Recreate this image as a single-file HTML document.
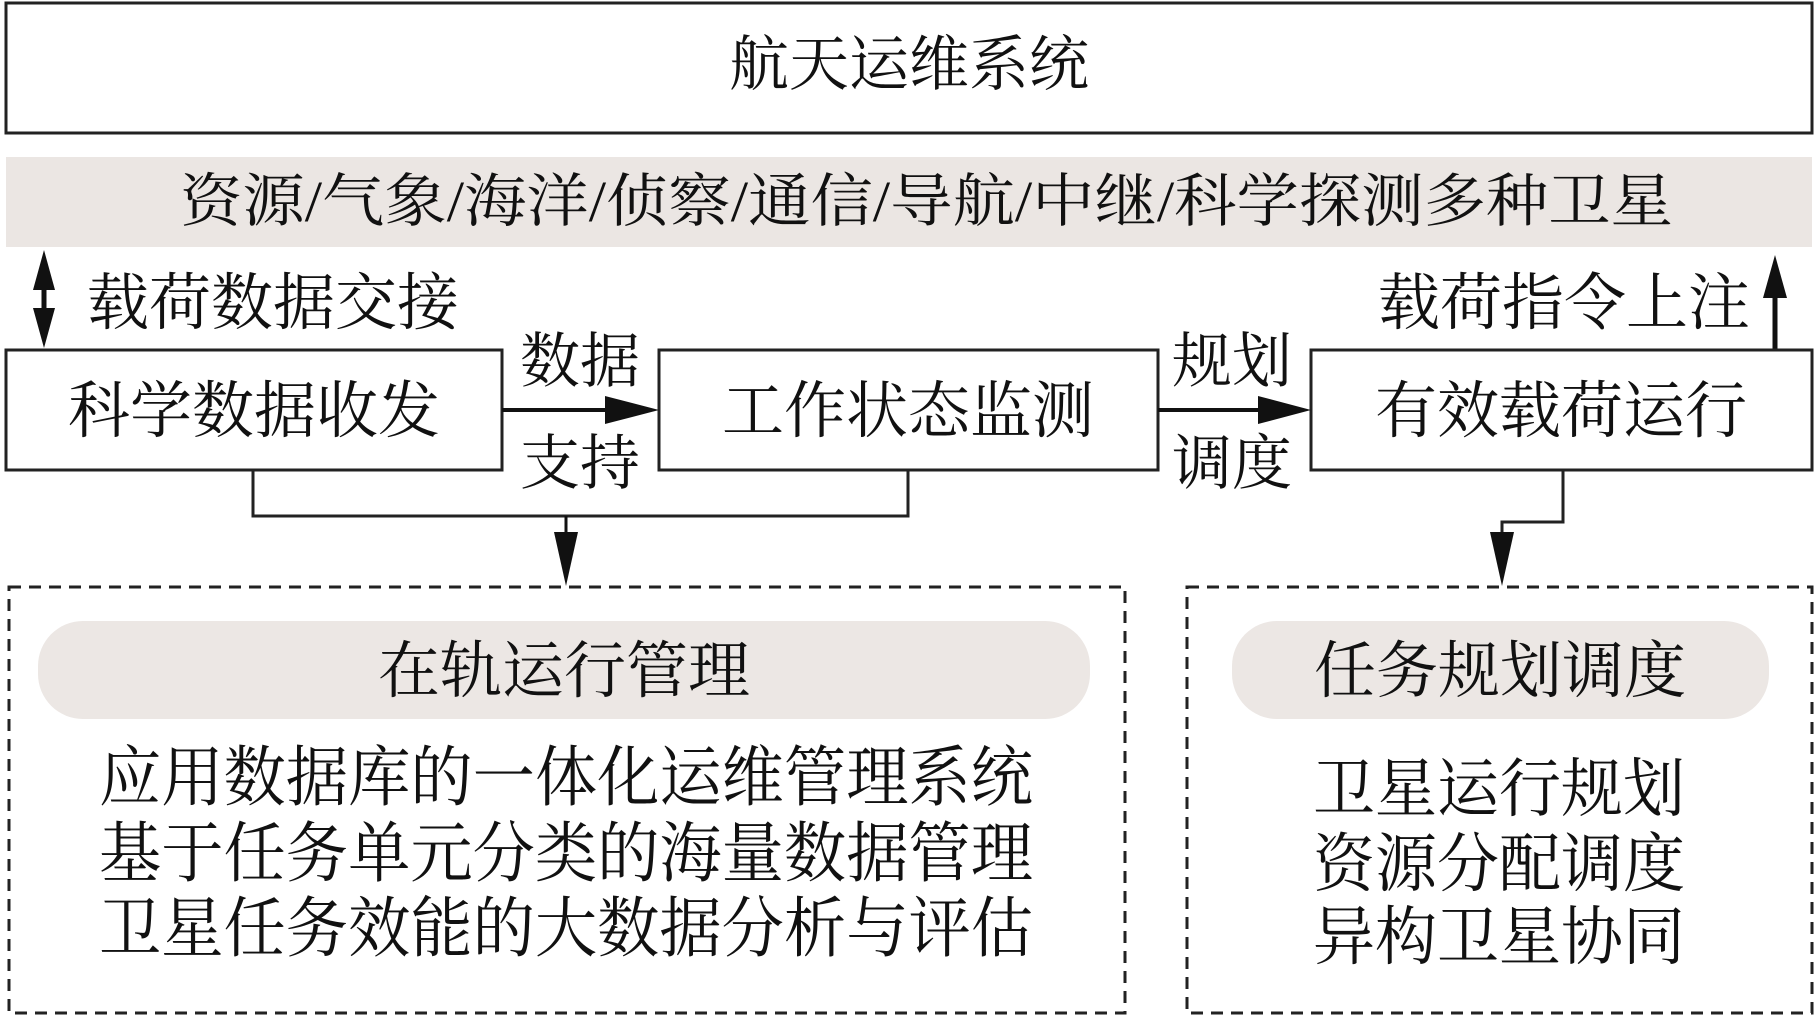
<!DOCTYPE html>
<html><head><meta charset="utf-8"><style>
html,body{margin:0;padding:0;background:#fff;}
svg text{font-family:"Liberation Serif","Noto Serif CJK SC",serif;fill:#111;}
</style></head><body>
<svg width="1819" height="1016" viewBox="0 0 1819 1016" xmlns="http://www.w3.org/2000/svg">
<rect x="6" y="3" width="1806" height="130" fill="#fff" stroke="#222" stroke-width="3"/>
<text x="909" y="85" font-size="60" text-anchor="middle">航天运维系统</text>
<rect x="6" y="157" width="1806" height="90" fill="#ebe6e3"/>
<text x="180" y="221" font-size="58" textLength="1493" lengthAdjust="spacingAndGlyphs">资源/气象/海洋/侦察/通信/导航/中继/科学探测多种卫星</text>
<!-- double arrow -->
<line x1="44" y1="275" x2="44" y2="325" stroke="#111" stroke-width="5"/>
<polygon points="44,250 33,290 55,290" fill="#111"/>
<polygon points="44,348 33,308 55,308" fill="#111"/>
<text x="87" y="324" font-size="62" textLength="372" lengthAdjust="spacingAndGlyphs">载荷数据交接</text>
<!-- up arrow -->
<line x1="1775" y1="285" x2="1775" y2="350" stroke="#111" stroke-width="5"/>
<polygon points="1775,255 1763,298 1787,298" fill="#111"/>
<text x="1378" y="324" font-size="62" textLength="372" lengthAdjust="spacingAndGlyphs">载荷指令上注</text>
<!-- boxes -->
<rect x="6" y="350" width="496" height="120" fill="#fff" stroke="#222" stroke-width="3"/>
<text x="254" y="432" font-size="62" text-anchor="middle">科学数据收发</text>
<rect x="659" y="350" width="499" height="120" fill="#fff" stroke="#222" stroke-width="3"/>
<text x="908" y="432" font-size="62" text-anchor="middle">工作状态监测</text>
<rect x="1311" y="350" width="501" height="120" fill="#fff" stroke="#222" stroke-width="3"/>
<text x="1561" y="432" font-size="62" text-anchor="middle">有效载荷运行</text>
<!-- horizontal arrows -->
<line x1="502" y1="410" x2="610" y2="410" stroke="#111" stroke-width="4"/>
<polygon points="659,410 605,396 605,424" fill="#111"/>
<text x="520" y="382" font-size="60">数据</text>
<text x="520" y="484" font-size="60">支持</text>
<line x1="1158" y1="410" x2="1265" y2="410" stroke="#111" stroke-width="4"/>
<polygon points="1311,410 1258,396 1258,424" fill="#111"/>
<text x="1172" y="382" font-size="60">规划</text>
<text x="1172" y="484" font-size="60">调度</text>
<!-- bracket left -->
<polyline points="253,470 253,516 908,516 908,470" fill="none" stroke="#222" stroke-width="3"/>
<line x1="566" y1="516" x2="566" y2="540" stroke="#111" stroke-width="3"/>
<polygon points="566,586 554,532 578,532" fill="#111"/>
<!-- right connector -->
<polyline points="1563,470 1563,522 1502,522 1502,540" fill="none" stroke="#222" stroke-width="3"/>
<polygon points="1502,586 1490,532 1514,532" fill="#111"/>
<!-- dashed boxes -->
<rect x="9" y="587" width="1116" height="426" fill="none" stroke="#222" stroke-width="3" stroke-dasharray="12,8"/>
<rect x="1187" y="587" width="625" height="426" fill="none" stroke="#222" stroke-width="3" stroke-dasharray="12,8"/>
<rect x="38" y="621" width="1052" height="98" rx="45" fill="#ece7e4"/>
<text x="564" y="692" font-size="62" text-anchor="middle">在轨运行管理</text>
<rect x="1232" y="621" width="537" height="98" rx="45" fill="#ece7e4"/>
<text x="1500" y="692" font-size="62" text-anchor="middle">任务规划调度</text>
<text x="99" y="800" font-size="66" textLength="934" lengthAdjust="spacingAndGlyphs">应用数据库的一体化运维管理系统</text>
<text x="99" y="876" font-size="66" textLength="934" lengthAdjust="spacingAndGlyphs">基于任务单元分类的海量数据管理</text>
<text x="99" y="951" font-size="66" textLength="934" lengthAdjust="spacingAndGlyphs">卫星任务效能的大数据分析与评估</text>
<text x="1313" y="811" font-size="64" textLength="372" lengthAdjust="spacingAndGlyphs">卫星运行规划</text>
<text x="1313" y="886" font-size="64" textLength="372" lengthAdjust="spacingAndGlyphs">资源分配调度</text>
<text x="1313" y="959" font-size="64" textLength="372" lengthAdjust="spacingAndGlyphs">异构卫星协同</text>
</svg>
</body></html>
